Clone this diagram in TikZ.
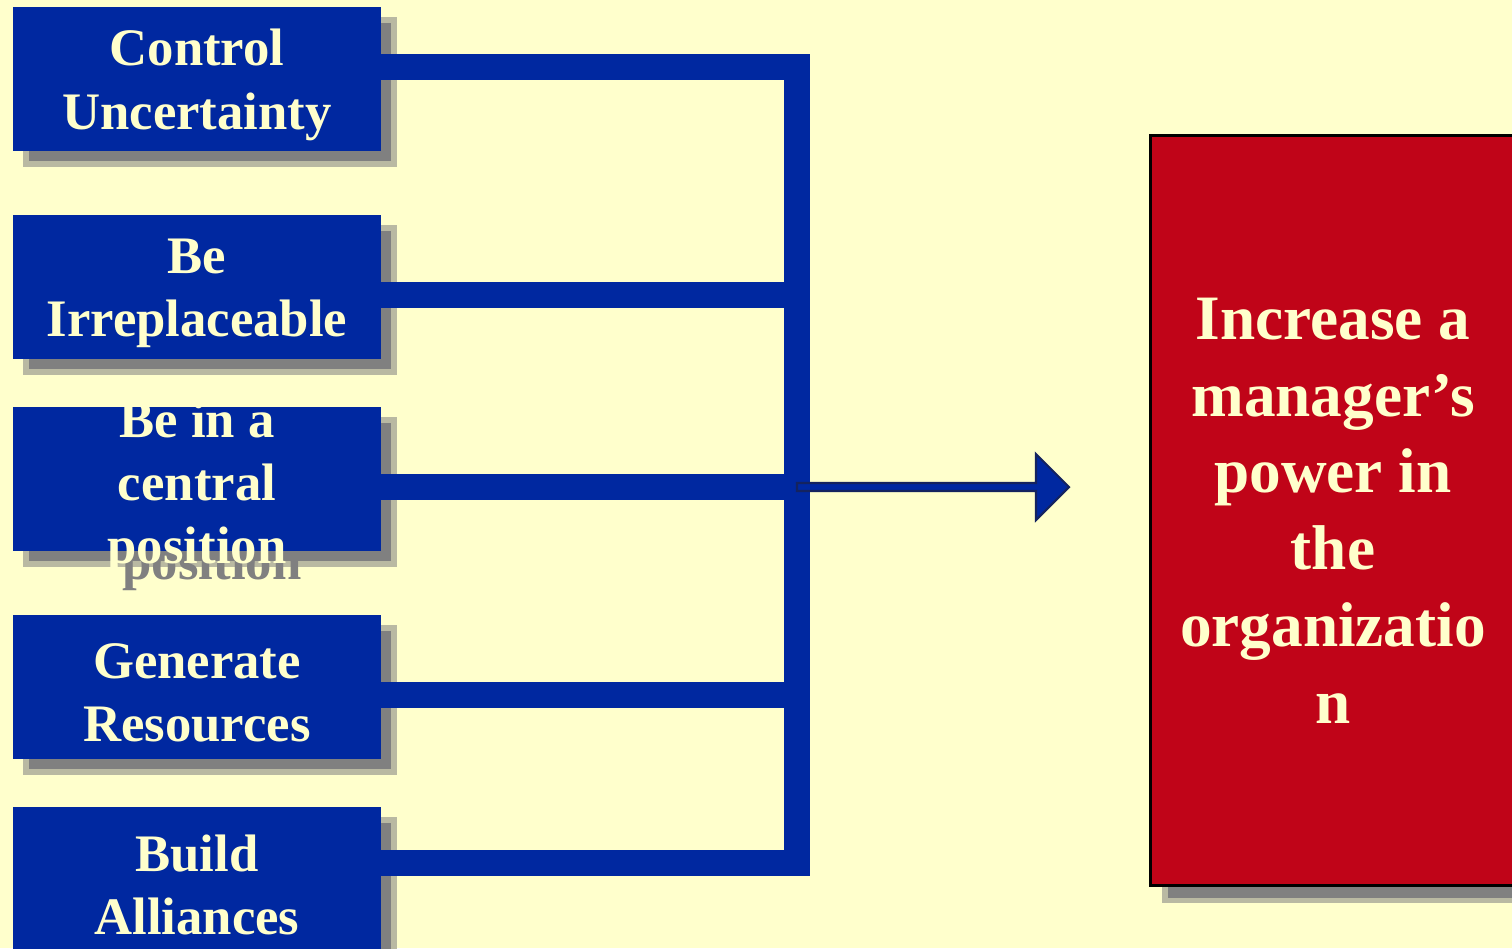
\documentclass[tikz,border=0pt]{standalone}
\usepackage{fontspec}
\setmainfont{Liberation Serif}
\usetikzlibrary{calc,positioning}
\usepackage{xcolor}
\definecolor{mcream}{HTML}{FFFFCC}
\definecolor{mblue}{HTML}{0028A0}
\definecolor{mnavy}{HTML}{14235F}
\definecolor{mred}{HTML}{C00418}
\definecolor{mshade}{HTML}{808080}
\tikzstyle{cause}=[rectangle, fill=mblue, minimum width=7.36cm, minimum height=2.88cm, inner sep=0pt]
\tikzstyle{causeshade}=[cause, fill=mshade, draw=mshade!55!mcream, line width=3pt]
\tikzstyle{label}=[text=mcream, inner sep=0pt, align=center, font=\fontsize{30}{36}\selectfont\bfseries]
\tikzstyle{labelshade}=[label, text=mshade]
\tikzstyle{goal}=[rectangle, fill=mred, text=mcream, draw=black, line width=1.7pt, minimum width=7.32cm, minimum height=15.02cm, inner sep=0pt, align=center, font=\fontsize{36}{43.7}\selectfont\bfseries]
\tikzstyle{goalshade}=[goal, fill=mshade, draw=mshade!55!mcream, line width=3pt]
\tikzstyle{bar}=[line width=0.52cm, color=mblue, line cap=butt, line join=miter]
\tikzstyle{pointer}=[fill=mblue, draw=mnavy, line width=1.2pt, line join=miter]

\begin{document}
\begin{tikzpicture}[x=0.02cm, y=-0.02cm]
    \useasboundingbox (0,0) rectangle (1512,948);
    \clip (0,0) rectangle (1512,948);
    \fill[mcream] (0,0) rectangle (1512,948);

    % junctions
    \coordinate (j1) at (797,67);
    \coordinate (j2) at (797,295);
    \coordinate (j3) at (797,487);
    \coordinate (j4) at (797,695);
    \coordinate (j5) at (797,862.5);
    \coordinate (tip) at (1069,487);

    % shadows
    \node [causeshade] at (210,92) {};
    \node [causeshade] at (210,300) {};
    \node [causeshade] at (210,492) {};
    \node [labelshade] at (212,504) {Be in a\\central\\position};
    \node [causeshade] at (210,700) {};
    \node [causeshade] at (210,892) {};
    \node [goalshade] at (1348,525) {};

    % boxes
    \node (unc) [cause] at (197,79) {};
    \node (irr) [cause] at (197,287) {};
    \node (cen) [cause] at (197,479) {};
    \node (res) [cause] at (197,687) {};
    \node (all) [cause] at (197,879) {};
    \node (unct) [label] at ($(unc)+(0,6)$) {Control\\Uncertainty};
    \node (irrt) [label] at ($(irr)+(0,6)$) {Be\\Irreplaceable};
    \node (cent) [label] at ($(cen)+(0,9)$) {Be in a\\central\\position};
    \node (rest) [label] at ($(res)+(0,6)$) {Generate\\Resources};
    \node (allt) [label] at ($(all)+(0,6)$) {Build\\Alliances};
    \node (pow) [goal] at (1333,510.5) {Increase a\\manager’s\\power in\\the\\organizatio\\n};

    % bars
    \draw[bar] (unc.east |- j1) -- (j1) -- (j5) -- (all.east |- j5);
    \draw[bar] (irr.east |- j2) -- (j2);
    \draw[bar] (cen.east |- j3) -- (j3);
    \draw[bar] (res.east |- j4) -- (j4);

    % arrow
    \draw[pointer] ($(j3)+(0,-4)$) -- ($(tip)+(-33,-4)$) -- ($(tip)+(-33,-33)$) -- (tip)
        -- ($(tip)+(-33,33)$) -- ($(tip)+(-33,4)$) -- ($(j3)+(0,4)$) -- cycle;
\end{tikzpicture}
\end{document}
